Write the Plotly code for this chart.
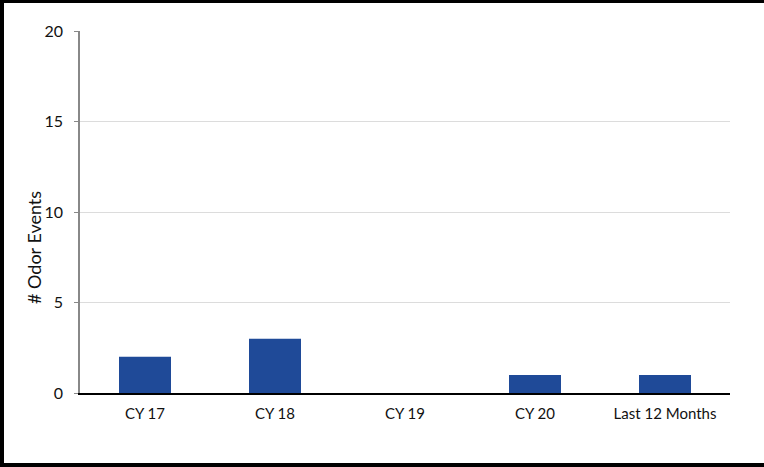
import plotly.graph_objects as go

categories = ["CY 17", "CY 18", "CY 19", "CY 20", "Last 12 Months"]
odor_events = [2, 3, 0, 1, 1]
y_ticks = [0, 5, 10, 15, 20]

W, H = 764, 467
L, R, T, B = 80, 34, 31, 74
pw, ph = W - L - R, H - T - B

fig = go.Figure(go.Bar(
    x=categories, y=odor_events,
    marker=dict(color="#1F4A98", line=dict(width=0)),
    width=0.4,
))

font = dict(family="Lato, 'Open Sans', sans-serif", size=15, color="#111")

fig.update_layout(
    width=W, height=H,
    margin=dict(l=L, r=R, t=T, b=B),
    paper_bgcolor="white", plot_bgcolor="white",
    font=font,
    showlegend=False,
    xaxis=dict(
        showline=True, linecolor="black", linewidth=1.5,
        ticks="", showgrid=False, tickfont=font,
        ticklabelstandoff=6,
    ),
    yaxis=dict(
        range=[0, 20], tickvals=y_ticks,
        showline=True, linecolor="#888", linewidth=1.5,
        ticks="outside", ticklen=4, tickcolor="#888", tickwidth=1,
        showgrid=True, gridcolor="#dcdcdc", gridwidth=1,
        zeroline=False, tickfont=dict(family="Lato, 'Open Sans', sans-serif", size=16, color="#111"),
        ticklabelstandoff=8,
    ),
    annotations=[dict(
        text="# Odor Events", textangle=-90, showarrow=False,
        xref="paper", yref="paper",
        x=(34 - L) / pw, y=(T + ph - 248) / ph,
        xanchor="center", yanchor="middle",
        font=dict(family="Lato, 'Open Sans', sans-serif", size=18, color="#111"),
    )],
    shapes=[dict(
        type="rect", xref="paper", yref="paper",
        x0=(2 - L) / pw, x1=(W + 10 - L) / pw,
        y0=(T + ph - 465) / ph,
        y1=(T + ph - 1) / ph,
        line=dict(color="black", width=4),
        fillcolor="rgba(0,0,0,0)", layer="above",
    )],
)

fig.write_html("out.html", config={"displayModeBar": False},
               post_script="document.body.style.margin='0';")
